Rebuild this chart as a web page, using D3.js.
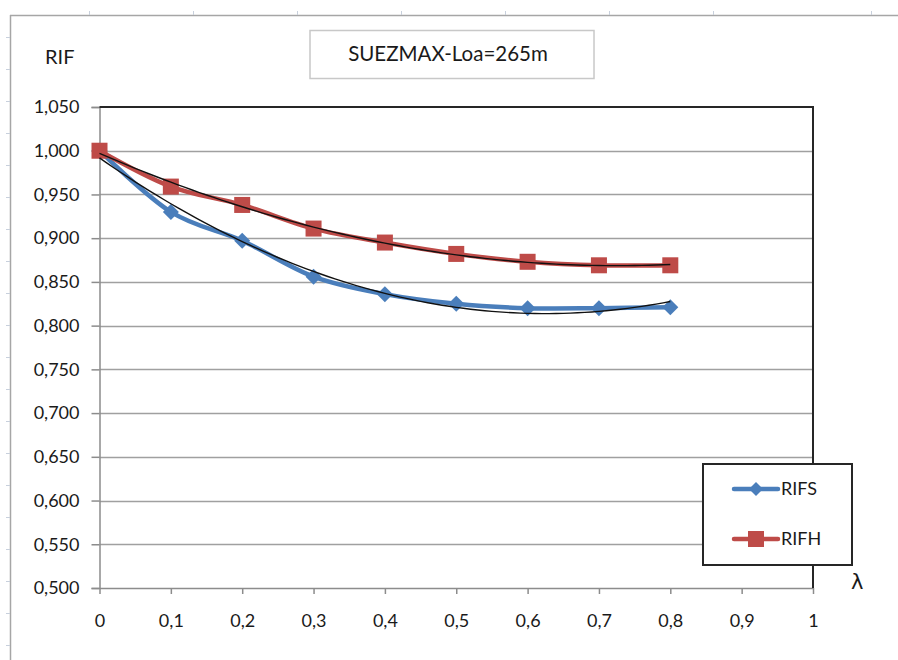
<!DOCTYPE html>
<html><head><meta charset="utf-8">
<script src="https://cdn.jsdelivr.net/npm/d3@7"></script>
<style>body{margin:0;background:#fff}svg{display:block}</style>
</head><body>
<svg id="c" width="898" height="660"></svg>
<script>
// ---- data ----
const lambdas = [0, 0.1, 0.2, 0.3, 0.4, 0.5, 0.6, 0.7, 0.8];
const rifs = [1.000, 0.930, 0.897, 0.856, 0.836, 0.825, 0.820, 0.820, 0.821];
const rifh = [1.000, 0.959, 0.938, 0.911, 0.895, 0.882, 0.873, 0.869, 0.869];
const xTicks = [0, 0.1, 0.2, 0.3, 0.4, 0.5, 0.6, 0.7, 0.8, 0.9, 1];
const yTicks = [0.500, 0.550, 0.600, 0.650, 0.700, 0.750, 0.800, 0.850, 0.900, 0.950, 1.000, 1.050];
const seriesNames = ["RIFS", "RIFH"];
const titleText = "SUEZMAX-Loa=265m";

const svg = d3.select("#c");
const FONT = "Lato, 'Open Sans', sans-serif";
const TXT = "#1a1a1a";

// spreadsheet-like outer frame
svg.append("line").attr("x1",10).attr("x2",898).attr("y1",15.5).attr("y2",15.5).attr("stroke","#a6a6a6").attr("stroke-width",1.5);
svg.append("line").attr("x1",10.5).attr("x2",10.5).attr("y1",15).attr("y2",660).attr("stroke","#a6a6a6").attr("stroke-width",1.5);
[89,193,297,401,505,609,713,871].forEach(x=>svg.append("line").attr("x1",x+.5).attr("x2",x+.5).attr("y1",11).attr("y2",15).attr("stroke","#c8d0dc"));
d3.range(37,660,32).forEach(y=>svg.append("line").attr("x1",6).attr("x2",10).attr("y1",y+.5).attr("y2",y+.5).attr("stroke","#c8d0dc"));

const x = d3.scaleLinear().domain([0,1]).range([99.5,813]);
const y = d3.scaleLinear().domain([0.5,1.05]).range([588,107]);

const fmtY = d3.formatLocale({decimal:",",thousands:".",grouping:[3],currency:["",""]}).format(".3f");
const fmtX = d => (d===0||d===1) ? String(d) : d.toFixed(1).replace(".",",");

// grid
svg.append("g").selectAll("line").data(yTicks.filter(t=>t>0.5 && t<1.05)).join("line")
  .attr("x1",x(0)).attr("x2",x(1)).attr("y1",d=>Math.round(y(d))+.5).attr("y2",d=>Math.round(y(d))+.5)
  .attr("stroke","#a0a0a0").attr("stroke-width",1.5);

// y axis
const yAxis = svg.append("g").attr("transform",`translate(${x(0)},0)`)
  .call(d3.axisLeft(y).tickValues(yTicks).tickFormat(fmtY).tickSize(8).tickPadding(12));
yAxis.select(".domain").attr("stroke","#8c8c8c").attr("stroke-width",1.5);
yAxis.selectAll(".tick line").attr("stroke","#8c8c8c").attr("stroke-width",1.5);
yAxis.selectAll(".tick text").attr("fill",TXT).style("font-family",FONT).style("font-size","18px");

// x axis
const xAxis = svg.append("g").attr("transform",`translate(0,${y(0.5)})`)
  .call(d3.axisBottom(x).tickValues(xTicks).tickFormat(fmtX).tickSize(6).tickSizeOuter(0).tickPadding(20));
xAxis.select(".domain").attr("stroke","#8c8c8c").attr("stroke-width",1.5);
xAxis.selectAll(".tick line").attr("stroke","#8c8c8c").attr("stroke-width",1.5);
xAxis.selectAll(".tick text").attr("fill",TXT).style("font-family",FONT).style("font-size","18px");

// plot top & right border
svg.append("path").attr("d",`M${x(0)},${y(1.05)}H${x(1)}V${y(0.5)}`).attr("fill","none").attr("stroke","#262626").attr("stroke-width",2);

// series
const colors = ["#4a7ebb","#be4b48"];
const datasets = [rifs, rifh];
const line = d3.line().x((d,i)=>x(lambdas[i])).y(d=>y(d)).curve(d3.curveCatmullRom.alpha(0));

datasets.forEach((vals,k)=>{
  svg.append("path").datum(vals).attr("d",line).attr("fill","none")
    .attr("stroke",colors[k]).attr("stroke-width",4.5).attr("stroke-linejoin","round").attr("stroke-linecap","round");
});

// markers
svg.append("g").selectAll("path").data(rifs).join("path")
  .attr("transform",(d,i)=>`translate(${x(lambdas[i])},${y(d)})`)
  .attr("d","M0,-8L8,0L0,8L-8,0Z")
  .attr("fill",colors[0]);
svg.append("g").selectAll("rect").data(rifh).join("rect")
  .attr("x",(d,i)=>x(lambdas[i])-8).attr("y",d=>y(d)-8).attr("width",16).attr("height",16)
  .attr("fill",colors[1]);

// quadratic trendlines (least squares from the data)
function quadFit(xs,ys){
  let S=[0,0,0,0,0],T=[0,0,0];
  xs.forEach((xi,i)=>{for(let p=0;p<5;p++)S[p]+=Math.pow(xi,p);for(let p=0;p<3;p++)T[p]+=ys[i]*Math.pow(xi,p);});
  const A=[[S[0],S[1],S[2],T[0]],[S[1],S[2],S[3],T[1]],[S[2],S[3],S[4],T[2]]];
  for(let i=0;i<3;i++){for(let j=i+1;j<3;j++){const f=A[j][i]/A[i][i];for(let k=i;k<4;k++)A[j][k]-=f*A[i][k];}}
  const c=[0,0,0];
  for(let i=2;i>=0;i--){let s=A[i][3];for(let k=i+1;k<3;k++)s-=A[i][k]*c[k];c[i]=s/A[i][i];}
  return t=>c[0]+c[1]*t+c[2]*t*t;
}
datasets.forEach(vals=>{
  const f = quadFit(lambdas, vals);
  const xs = d3.range(0,0.8001,0.01);
  svg.append("path").datum(xs).attr("d",d3.line().x(t=>x(t)).y(t=>y(f(t))))
    .attr("fill","none").attr("stroke","#111").attr("stroke-width",1.4);
});

// axis titles
svg.append("text").attr("x",45).attr("y",64).text("RIF").attr("fill",TXT).style("font-family",FONT).style("font-size","20px");
svg.append("text").attr("x",851).attr("y",589).text("λ").attr("fill",TXT).style("font-family","'DejaVu Sans', sans-serif").style("font-size","21px");

// title box
svg.append("rect").attr("x",310).attr("y",30.5).attr("width",284).attr("height",48).attr("fill","#fff").attr("stroke","#c8c8c8").attr("stroke-width",1.5);
svg.append("text").attr("x",448).attr("y",61).attr("text-anchor","middle").text(titleText).attr("fill",TXT).style("font-family",FONT).style("font-size","20.5px");

// legend
const lg = svg.append("g");
lg.append("rect").attr("x",703).attr("y",464).attr("width",149).attr("height",101).attr("fill","#fff").attr("stroke","#262626").attr("stroke-width",2);
const ly = [489, 539];
seriesNames.forEach((n,k)=>{
  lg.append("line").attr("x1",734).attr("x2",778).attr("y1",ly[k]).attr("y2",ly[k]).attr("stroke",colors[k]).attr("stroke-width",4.5).attr("stroke-linecap","round");
  if(k===0) lg.append("path").attr("transform",`translate(756,${ly[k]})`).attr("d","M0,-7L7,0L0,7L-7,0Z").attr("fill",colors[0]);
  else lg.append("rect").attr("x",748).attr("y",ly[k]-8).attr("width",16).attr("height",16).attr("fill",colors[1]);
  lg.append("text").attr("x",781).attr("y",ly[k]+6).text(n).attr("fill",TXT).style("font-family",FONT).style("font-size","18px");
});
</script>
</body></html>
